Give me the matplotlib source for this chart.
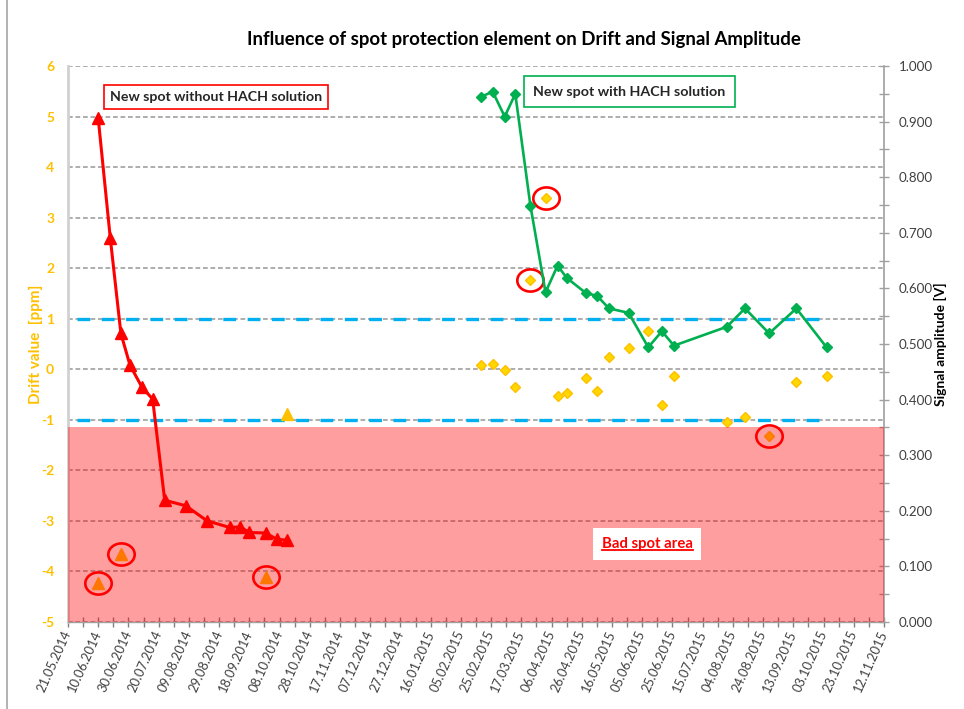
import matplotlib
matplotlib.use('Agg')
import matplotlib.pyplot as plt
import matplotlib.dates as mdates
from matplotlib.path import Path
from matplotlib.lines import Line2D
from matplotlib.ticker import FixedLocator, FuncFormatter
import numpy as np
import pandas as pd

plt.rcParams['font.family'] = ['Lato', 'DejaVu Sans']
plt.rcParams['lines.scale_dashes'] = False
plt.rcParams['axes.unicode_minus'] = False

# ---------------- data ----------------
title = "Influence of spot protection element on Drift and Signal Amplitude"
left_label = "Drift value  [ppm]"
right_label = "Signal amplitude [V]"
box_without = "New spot without HACH solution"
box_with = "New spot with HACH solution"
bad_label = "Bad spot area"

# spot without HACH solution (signal amplitude, V)
red_dates = ['2014-06-10', '2014-06-18', '2014-06-25', '2014-07-01', '2014-07-09',
             '2014-07-16', '2014-07-24', '2014-08-07', '2014-08-21', '2014-09-05',
             '2014-09-12', '2014-09-18', '2014-09-29', '2014-10-06', '2014-10-13']
red_amp = [0.906, 0.690, 0.519, 0.462, 0.422, 0.401, 0.219, 0.209, 0.182, 0.170,
           0.171, 0.161, 0.160, 0.149, 0.147]

# drift of spot without HACH solution (ppm)
orange_dates = ['2014-06-10', '2014-06-25', '2014-09-29', '2014-10-13']
orange_drift = [-4.22, -3.66, -4.10, -0.88]
orange_circled = [0, 1, 2]

# spot with HACH solution (signal amplitude, V)
green_dates = ['2015-02-18', '2015-02-26', '2015-03-06', '2015-03-13', '2015-03-23',
               '2015-04-02', '2015-04-10', '2015-04-16', '2015-04-29', '2015-05-06',
               '2015-05-14', '2015-05-27', '2015-06-09', '2015-06-18', '2015-06-26',
               '2015-07-31', '2015-08-12', '2015-08-28', '2015-09-15', '2015-10-05']
green_amp = [0.944, 0.954, 0.909, 0.950, 0.749, 0.593, 0.641, 0.619, 0.591, 0.587,
             0.564, 0.556, 0.494, 0.523, 0.497, 0.531, 0.564, 0.519, 0.564, 0.494]

# drift of spot with HACH solution (ppm)
yellow_drift = [0.09, 0.11, -0.02, -0.35, 1.76, 3.39, -0.53, -0.47, -0.18, -0.42,
                0.24, 0.43, 0.75, -0.71, -0.13, -1.04, -0.94, -1.33, -0.25, -0.13]
yellow_circled = [4, 5, 17]

# drift limits
limit_dates = ['2014-05-27', '2015-10-06']
upper_limit = [1, 1]
lower_limit = [-1, -1]

bad_spot_top = 0.35  # V

x_start, x_end = '2014-05-21', '2015-11-12'
drift_ticks = list(range(-5, 7))
amp_ticks = [0.0, 0.1, 0.2, 0.3, 0.4, 0.5, 0.6, 0.7, 0.8, 0.9, 1.0]

# ---------------- figure ----------------
W, H = 964, 709
fig = plt.figure(figsize=(W / 100, H / 100), dpi=100)
L, R, T, B = 68, 884, 66, 622
ax = fig.add_axes([L / W, 1 - B / H, (R - L) / W, (B - T) / H])
ax2 = ax.twinx()

d = lambda lst: mdates.date2num(pd.to_datetime(lst))

ax.set_xlim(d([x_start])[0], d([x_end])[0])
ax.set_ylim(-5, 6)
ax2.set_ylim(0, 1)

# grid
ax.set_yticks(drift_ticks)
ax.yaxis.grid(True, color='#A0A0A0', linestyle=(0, (3.4, 2.0)), lw=1.2, zorder=0)
ax.set_axisbelow(True)

# limits
ax.plot(d(limit_dates), upper_limit, color='#00B0F0', lw=2.4,
        linestyle=(0, (9.2, 8.3)), zorder=2)
ax.plot(d(limit_dates), lower_limit, color='#00B0F0', lw=2.4,
        linestyle=(0, (9.2, 8.3)), zorder=2)

# drift markers
ax.plot(d(orange_dates), orange_drift, linestyle='none', marker='^', ms=8,
        color='#FFC000', zorder=3)
ax.plot(d(green_dates), yellow_drift, linestyle='none', marker='D', ms=5,
        color='#FFD700', markeredgecolor='#FFC000', zorder=3)

# amplitude series
ax2.plot(d(red_dates), red_amp, color='#FF0000', lw=2.2, marker='^', ms=8, zorder=4)
ax2.plot(d(green_dates), green_amp, color='#00B050', lw=1.9, marker='D', ms=5, zorder=4)

# highlight circles (ellipse marker)
th = np.linspace(0, 2 * np.pi, 60)
ell = Path(np.column_stack([np.cos(th), 0.84 * np.sin(th)]), closed=True)
od = d(orange_dates)
gd = d(green_dates)
cx = [od[i] for i in orange_circled] + [gd[i] for i in yellow_circled]
cy = [orange_drift[i] for i in orange_circled] + [yellow_drift[i] for i in yellow_circled]
ax.plot(cx, cy, linestyle='none', marker=ell, ms=19, markerfacecolor='none',
        markeredgecolor='#FF0000', markeredgewidth=1.9, zorder=5)

# bad spot area overlay (on top)
ax2.axhspan(0, bad_spot_top, color='#FF0000', alpha=0.38, lw=0, zorder=10)

# x axis
major = pd.date_range(x_start, x_end, freq='20D')
minor = pd.date_range(x_start, x_end, freq='10D')
ax.xaxis.set_major_locator(FixedLocator(d(major)))
ax.xaxis.set_minor_locator(FixedLocator(d(minor)))
ax.xaxis.set_major_formatter(FuncFormatter(lambda v, p: mdates.num2date(v).strftime('%d.%m.%Y')))
ax.tick_params(axis='x', which='both', direction='inout', length=7, width=1,
               color='#808080', pad=3)
for lab in ax.get_xticklabels():
    lab.set_rotation(66)
    lab.set_ha('right')
    lab.set_va('center')
    lab.set_rotation_mode('anchor')
    lab.set_fontsize(9.3)
    lab.set_color('#404040')

# left axis
ax.tick_params(axis='y', length=0, pad=10, labelsize=10, labelcolor='#FFC000')
for lab in ax.get_yticklabels():
    lab.set_fontweight('bold')
ax.set_ylabel(left_label, color='#FFC000', fontsize=11, fontweight='bold')
ax.yaxis.set_label_coords((43 - L) / (R - L), 0.5)

# right axis
ax2.set_yticks(amp_ticks)
ax2.set_yticks(np.arange(0.05, 1.0, 0.1), minor=True)
ax2.yaxis.set_major_formatter(FuncFormatter(lambda v, p: '%.3f' % v))
ax2.tick_params(axis='y', which='both', direction='inout', length=7, width=1,
                color='#A0A0A0', pad=7, labelsize=9.6, labelcolor='#404040')
ax2.set_ylabel(right_label, color='black', fontsize=10, fontweight='bold')
ax2.yaxis.set_label_coords((934 - L) / (R - L), 0.5)

# spines
for a in (ax, ax2):
    a.spines['top'].set_visible(False)
ax.spines['right'].set_visible(False)
ax2.spines['left'].set_visible(False)
ax2.spines['bottom'].set_visible(False)
ax.spines['left'].set_color('#D0D0D0')
ax.spines['left'].set_linewidth(2)
ax.spines['bottom'].set_color('#A0A0A0')
ax.spines['bottom'].set_linewidth(1)
ax2.spines['right'].set_color('#A0A0A0')
ax2.spines['right'].set_linewidth(1.2)

# title and boxes
fig.text(524 / W, 1 - 40 / H, title, ha='center', va='center', fontsize=13.4,
         fontweight='bold', color='black')
ax2.text((216 - L) / (R - L), (B - 97) / (B - T), box_without, transform=ax2.transAxes,
         ha='center', va='center', fontsize=10.2, fontweight='bold', color='#262626',
         bbox=dict(boxstyle='square,pad=0.45', fc='white', ec='#FF0000', lw=1.2), zorder=20)
ax2.text((629.5 - L) / (R - L), (B - 91.5) / (B - T), box_with, transform=ax2.transAxes,
         ha='center', va='center', fontsize=10.3, fontweight='bold', color='#262626',
         bbox=dict(boxstyle='square,pad=0.65', fc='white', ec='#00B050', lw=1.2), zorder=20)
bt = ax2.text((647 - L) / (R - L), (B - 544) / (B - T), bad_label, transform=ax2.transAxes,
              ha='center', va='center', fontsize=10.7, fontweight='bold', color='#FF0000',
              bbox=dict(boxstyle='square,pad=0.6', fc='white', ec='none'), zorder=20)

# chart border
fig.add_artist(Line2D([7 / W, 7 / W], [0, 1], transform=fig.transFigure,
                      color='#A6A6A6', lw=1.2))

# underline for bad spot label
fig.canvas.draw()
bb = bt.get_window_extent(fig.canvas.get_renderer())
uy = bb.y0 + 1.5
fig.add_artist(Line2D([bb.x0 / W, bb.x1 / W], [uy / H, uy / H], transform=fig.transFigure,
                      color='#FF0000', lw=1.3, zorder=30))

fig.savefig('out.png', dpi=100)
